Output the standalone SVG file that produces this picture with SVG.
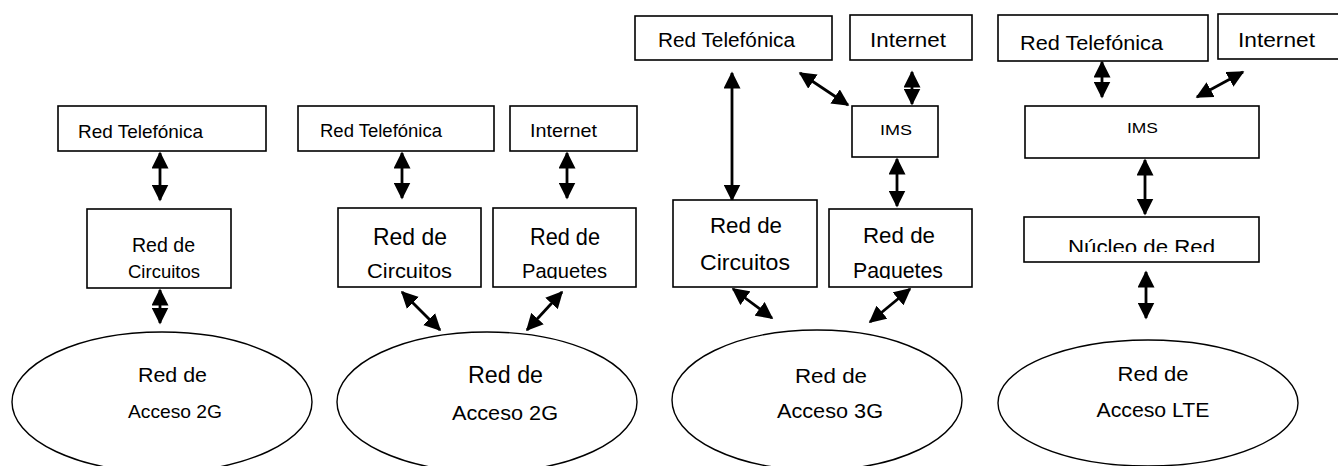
<svg xmlns="http://www.w3.org/2000/svg" width="1338" height="466" viewBox="0 0 1338 466">
<style>
.box{fill:#fff;stroke:#000;stroke-width:1.6}
.ell{fill:#fff;stroke:#000;stroke-width:1.4}
.t{font-family:"Liberation Sans",Arial,sans-serif;fill:#000;text-anchor:middle}
.c{stroke:#000;stroke-width:2.8;fill:none;marker-start:url(#ah);marker-end:url(#ah)}
</style>
<defs>
<marker id="ah" markerUnits="userSpaceOnUse" markerWidth="18" markerHeight="17" viewBox="0 0 18 17" refX="15.5" refY="8.5" orient="auto-start-reverse">
<path d="M0,0 L17,8.5 L0,17 Z" fill="#000"/>
</marker>
<clipPath id="clipP2"><rect x="480" y="200" width="170" height="79"/></clipPath>
<clipPath id="clipP3"><rect x="820" y="200" width="160" height="79"/></clipPath>
<clipPath id="clipN4"><rect x="1020" y="210" width="245" height="42"/></clipPath>
</defs>
<rect width="1338" height="466" fill="#fff"/>

<g id="connectors">
<line class="c" x1="160" y1="153" x2="160" y2="200"/>
<line class="c" x1="160" y1="290" x2="160" y2="323"/>
<line class="c" x1="402" y1="153" x2="402" y2="198"/>
<line class="c" x1="567" y1="153" x2="567" y2="198"/>
<line class="c" x1="402" y1="292" x2="440" y2="330"/>
<line class="c" x1="562" y1="292" x2="527" y2="330"/>
<line class="c" x1="732" y1="73" x2="732" y2="200"/>
<line class="c" x1="800" y1="73" x2="848" y2="105"/>
<line class="c" x1="912" y1="72" x2="912" y2="104"/>
<line class="c" x1="897" y1="159" x2="897" y2="206"/>
<line class="c" x1="733" y1="289" x2="772" y2="318"/>
<line class="c" x1="910" y1="289" x2="870" y2="322"/>
<line class="c" x1="1102" y1="62" x2="1102" y2="97"/>
<line class="c" x1="1243" y1="72" x2="1197" y2="97"/>
<line class="c" x1="1145" y1="160" x2="1145" y2="214"/>
<line class="c" x1="1146" y1="272" x2="1146" y2="318"/>
</g>

<!-- Panel 1 -->
<g id="p1-redtel"><rect class="box" x="58" y="106" width="208" height="45"/><text class="t" x="140.5" y="138" font-size="18.5" textLength="125" lengthAdjust="spacingAndGlyphs">Red Telefónica</text></g>
<g id="p1-circuitos"><rect class="box" x="87" y="209" width="144" height="79"/><text class="t" x="163.5" y="252" font-size="21" textLength="63" lengthAdjust="spacingAndGlyphs">Red de</text><text class="t" x="164" y="278" font-size="18.5" textLength="72" lengthAdjust="spacingAndGlyphs">Circuitos</text></g>
<g id="p1-acceso"><ellipse class="ell" cx="162" cy="402" rx="150" ry="70"/><text class="t" x="172.5" y="382" font-size="21" textLength="69" lengthAdjust="spacingAndGlyphs">Red de</text><text class="t" x="175" y="418" font-size="18.5" textLength="94" lengthAdjust="spacingAndGlyphs">Acceso 2G</text></g>

<!-- Panel 2 -->
<g id="p2-redtel"><rect class="box" x="298" y="106" width="196" height="45"/><text class="t" x="381" y="137" font-size="18" textLength="122" lengthAdjust="spacingAndGlyphs">Red Telefónica</text></g>
<g id="p2-internet"><rect class="box" x="510" y="106" width="127" height="45"/><text class="t" x="563.5" y="137" font-size="18.5" textLength="67" lengthAdjust="spacingAndGlyphs">Internet</text></g>
<g id="p2-circuitos"><rect class="box" x="338" y="208" width="143" height="79"/><text class="t" x="410" y="245" font-size="24" textLength="74" lengthAdjust="spacingAndGlyphs">Red de</text><text class="t" x="409.5" y="278" font-size="20.5" textLength="85" lengthAdjust="spacingAndGlyphs">Circuitos</text></g>
<g id="p2-paquetes"><rect class="box" x="493" y="208" width="143" height="79"/><text class="t" x="565" y="245" font-size="24" textLength="70" lengthAdjust="spacingAndGlyphs">Red de</text><text class="t" x="564.5" y="278" font-size="20.5" textLength="85" lengthAdjust="spacingAndGlyphs" clip-path="url(#clipP2)">Paquetes</text></g>
<g id="p2-acceso"><ellipse class="ell" cx="487" cy="402" rx="150" ry="70"/><text class="t" x="505.5" y="383" font-size="23" textLength="75" lengthAdjust="spacingAndGlyphs">Red de</text><text class="t" x="505" y="420" font-size="20.5" textLength="106" lengthAdjust="spacingAndGlyphs">Acceso 2G</text></g>

<!-- Panel 3 -->
<g id="p3-redtel"><rect class="box" x="635" y="16" width="197" height="44"/><text class="t" x="726.5" y="47" font-size="20" textLength="137" lengthAdjust="spacingAndGlyphs">Red Telefónica</text></g>
<g id="p3-internet"><rect class="box" x="850" y="15" width="122" height="45"/><text class="t" x="908" y="47" font-size="20" textLength="76" lengthAdjust="spacingAndGlyphs">Internet</text></g>
<g id="p3-ims"><rect class="box" x="852" y="106" width="86" height="51"/><text class="t" x="896" y="135" font-size="14.5" textLength="32" lengthAdjust="spacingAndGlyphs">IMS</text></g>
<g id="p3-circuitos"><rect class="box" x="673" y="200" width="144" height="87"/><text class="t" x="746" y="233" font-size="21.5" textLength="72" lengthAdjust="spacingAndGlyphs">Red de</text><text class="t" x="745" y="270" font-size="21.5" textLength="90" lengthAdjust="spacingAndGlyphs">Circuitos</text></g>
<g id="p3-paquetes"><rect class="box" x="829" y="209" width="143" height="78"/><text class="t" x="899" y="243" font-size="21.5" textLength="72" lengthAdjust="spacingAndGlyphs">Red de</text><text class="t" x="898" y="278" font-size="21.5" textLength="90" lengthAdjust="spacingAndGlyphs" clip-path="url(#clipP3)">Paquetes</text></g>
<g id="p3-acceso"><ellipse class="ell" cx="817" cy="400" rx="145" ry="70"/><text class="t" x="831" y="383" font-size="21" textLength="72" lengthAdjust="spacingAndGlyphs">Red de</text><text class="t" x="830" y="418" font-size="20.5" textLength="106" lengthAdjust="spacingAndGlyphs">Acceso 3G</text></g>

<!-- Panel 4 -->
<g id="p4-redtel"><rect class="box" x="998" y="15" width="210" height="46"/><text class="t" x="1091.5" y="50" font-size="21" textLength="143" lengthAdjust="spacingAndGlyphs">Red Telefónica</text></g>
<g id="p4-internet"><rect class="box" x="1218" y="14" width="124" height="45"/><text class="t" x="1276.5" y="47" font-size="20" textLength="77" lengthAdjust="spacingAndGlyphs">Internet</text></g>
<g id="p4-ims"><rect class="box" x="1025" y="106" width="234" height="52"/><text class="t" x="1142.5" y="133" font-size="14.5" textLength="31" lengthAdjust="spacingAndGlyphs">IMS</text></g>
<g id="p4-nucleo"><rect class="box" x="1024" y="217" width="235" height="45"/><text class="t" x="1141.5" y="254" font-size="21" textLength="147" lengthAdjust="spacingAndGlyphs" clip-path="url(#clipN4)">Núcleo de Red</text></g>
<g id="p4-acceso"><ellipse class="ell" cx="1148" cy="403" rx="150" ry="63"/><text class="t" x="1153" y="381" font-size="21" textLength="71" lengthAdjust="spacingAndGlyphs">Red de</text><text class="t" x="1153" y="417" font-size="20.5" textLength="113" lengthAdjust="spacingAndGlyphs">Acceso LTE</text></g>
</svg>
